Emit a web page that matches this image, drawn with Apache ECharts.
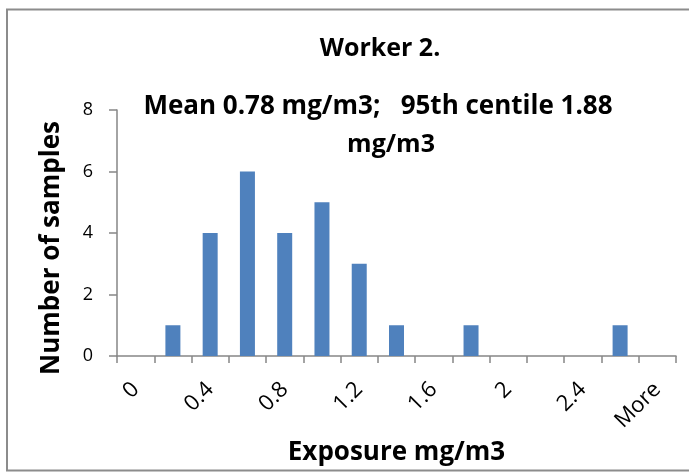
<!DOCTYPE html>
<html><head><meta charset="utf-8">
<script src="https://cdn.jsdelivr.net/npm/echarts@6/dist/echarts.min.js"></script>
<style>html,body{margin:0;padding:0;background:#fff;}#c{width:689px;height:472px;}</style>
</head><body><div id="c"></div>
<script>
const categories = ['0','0.2','0.4','0.6','0.8','1','1.2','1.4','1.6','1.8','2','2.2','2.4','2.6','More'];
const counts = [0,1,4,6,4,5,3,1,0,1,0,0,0,1,0];
const yTicks = [0,2,4,6,8];
const titleLines = ['Worker 2.','Mean 0.78 mg/m3;   95th centile 1.88','mg/m3'];
const xTitle = 'Exposure mg/m3';
const yTitle = 'Number of samples';

const FONT = 'Open Sans';
const TF = 'bold 25px "' + FONT + '"';
const chart = echarts.init(document.getElementById('c'), null, {renderer:'canvas'});
chart.setOption({
  animation:false,
  backgroundColor:'#fff',
  graphic:[
    {type:'rect', shape:{x:7,y:9.5,width:700,height:461}, style:{fill:'none',stroke:'#8c8c8c',lineWidth:2}, z:-1},
    {type:'text', style:{text:titleLines[0], x:380, y:49, font:TF, fill:'#000', textAlign:'center', textVerticalAlign:'middle'}},
    {type:'text', style:{text:titleLines[1], x:378, y:107, font:'bold 26px "' + FONT + '"', fill:'#000', textAlign:'center', textVerticalAlign:'middle'}},
    {type:'text', style:{text:titleLines[2], x:391, y:145, font:TF, fill:'#000', textAlign:'center', textVerticalAlign:'middle'}}
  ],
  grid:{left:117, right:13, top:110, bottom:116, containLabel:false},
  xAxis:{
    type:'category', data:categories, boundaryGap:true,
    axisLine:{lineStyle:{color:'#868686',width:1.5}},
    axisTick:{show:true, alignWithLabel:false, interval:0, length:7, lineStyle:{color:'#868686',width:1.5}},
    axisLabel:{interval:1, rotate:45, fontFamily:FONT, fontSize:22, color:'#000', margin:30},
    name:xTitle, nameLocation:'middle', nameGap:82,
    nameTextStyle:{fontFamily:FONT, fontWeight:'bold', fontSize:26, color:'#000'}
  },
  yAxis:{
    type:'value', min:0, max:8, interval:2,
    splitLine:{show:false},
    axisLine:{show:true, lineStyle:{color:'#868686',width:1.5}},
    axisTick:{show:true, length:8, lineStyle:{color:'#868686',width:1.5}},
    axisLabel:{fontFamily:FONT, fontSize:18, color:'#000', margin:24, formatter:v=>yTicks.includes(v)?String(v):''},
    name:yTitle, nameLocation:'middle', nameGap:52, nameRotate:90,
    nameTextStyle:{fontFamily:FONT, fontWeight:'bold', fontSize:26, color:'#000', padding:[0,30,0,0]}
  },
  series:[{type:'bar', data:counts, barWidth:15, itemStyle:{color:'#4F81BD'}}]
});
</script></body></html>
